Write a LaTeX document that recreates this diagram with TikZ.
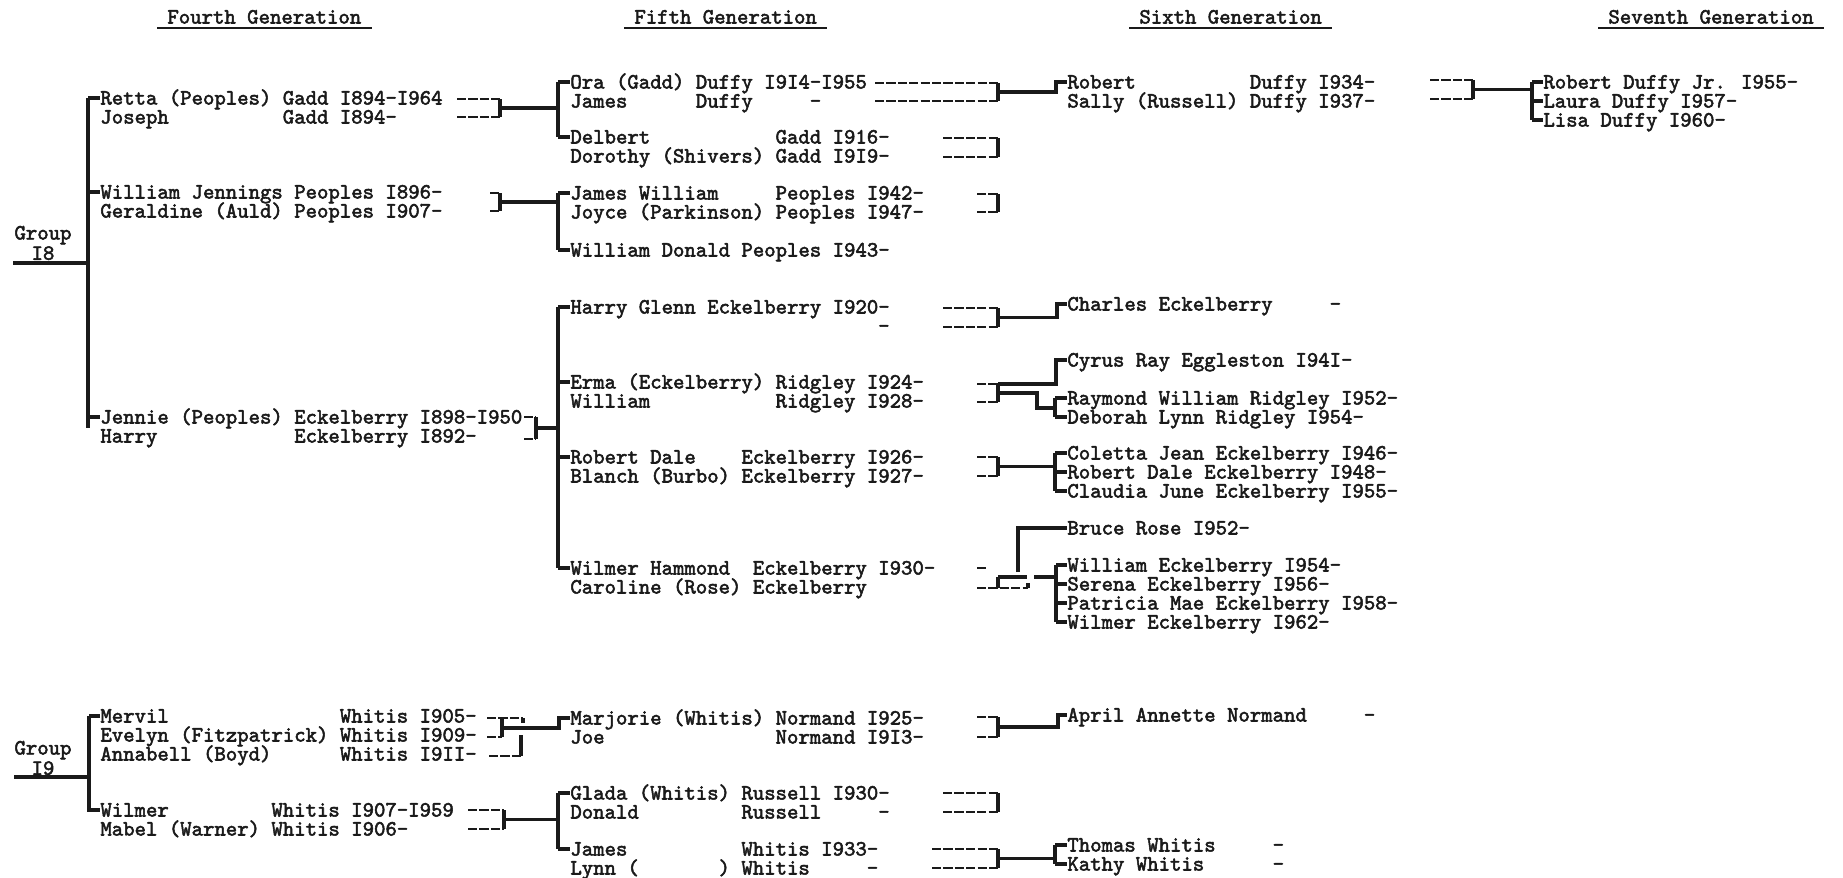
\documentclass[tikz,border=0pt]{standalone}
\usepackage{fontspec}
\newfontfamily\twfont{lmmono10-regular.otf}[FakeBold=2.4]
\newlength\cwd
\setlength\cwd{5.7pt}
\newcommand\SP[1]{\hspace*{#1\cwd}}
\definecolor{ink}{HTML}{1A1A1A}
\tikzset{
  tw/.style={font=\twfont\fontsize{10.86}{11}\selectfont, anchor=west, inner sep=0pt, text height=6.5pt, text depth=0pt, text=ink},
  grp/.style={font=\twfont\fontsize{10.86}{9}\selectfont, align=center, inner sep=0pt, text=ink},
  ln/.style={line width=1.6pt, draw=ink},
  dl/.style={line width=1.2pt, draw=ink, dash pattern=on 4.6pt off 1.1pt},
  ul/.style={line width=1.2pt, draw=ink},
}
\newcommand\brk[5]{%
  \draw[dl] (#1,#3) -- (#2,#3);
  \draw[dl] (#1,#4) -- (#2,#4);
  \draw[ln] (#2,#3) -- (#2,#4);
  \coordinate (#5) at (#2,{(#3+#4)/2});}
\begin{document}
\begin{tikzpicture}[x=0.5pt,y=-0.5pt]
\useasboundingbox (0,0) rectangle (1843,878);
% headers
\node[tw] (h4) at (167,17) {Fourth Generation};
\node[tw] (h5) at (634,17) {Fifth Generation};
\node[tw] (h6) at (1139,17) {Sixth Generation};
\node[tw] (h7) at (1608,17) {Seventh Generation};
\foreach \h in {h4,h5,h6,h7}{
  \draw[ul] ([shift={(-5pt,-2pt)}]\h.south west) -- ([shift={(5pt,-2pt)}]\h.south east);}
% groups
\node[grp] (g8) at (43,243) {Group\\I8};
\node[grp] (g9) at (43,758) {Group\\I9};
% fourth generation
\node[tw] (retta) at (100,98) {Retta (Peoples) Gadd I894-I964};
\node[tw] (joseph) at (100,117) {Joseph\SP{10}Gadd I894-};
\node[tw] (wj) at (100,192) {William Jennings Peoples I896-};
\node[tw] (ger) at (100,211) {Geraldine (Auld) Peoples I907-};
\node[tw] (jennie) at (100,417) {Jennie (Peoples) Eckelberry I898-I950};
\node[tw] (harry) at (100,436) {Harry\SP{12}Eckelberry I892-};
\node[tw] (mervil) at (100,716) {Mervil\SP{15}Whitis I905-};
\node[tw] (evelyn) at (100,735) {Evelyn (Fitzpatrick) Whitis I909-};
\node[tw] (annabell) at (100,754) {Annabell (Boyd)\SP{6}Whitis I9II-};
\node[tw] (wilmer) at (100,810) {Wilmer\SP{9}Whitis I907-I959};
\node[tw] (mabel) at (100,829) {Mabel (Warner) Whitis I906-};
% fifth generation
\node[tw] (ora) at (570,82) {Ora (Gadd) Duffy I9I4-I955};
\node[tw] (jamesd) at (570,101) {James\SP{6}Duffy\SP{5}-};
\node[tw] (delbert) at (570,137) {Delbert\SP{11}Gadd I916-};
\node[tw] (dorothy) at (570,156) {Dorothy (Shivers) Gadd I9I9-};
\node[tw] (jw5) at (570,193) {James William\SP{5}Peoples I942-};
\node[tw] (joyce) at (570,212) {Joyce (Parkinson) Peoples I947-};
\node[tw] (wd) at (570,250) {William Donald Peoples I943-};
\node[tw] (hg) at (570,307) {Harry Glenn Eckelberry I920-};
\node[tw] (hgs) at (570,326) {\SP{27}-};
\node[tw] (erma) at (570,382) {Erma (Eckelberry) Ridgley I924-};
\node[tw] (william) at (570,401) {William\SP{11}Ridgley I928-};
\node[tw] (rd) at (570,457) {Robert Dale\SP{4}Eckelberry I926-};
\node[tw] (blanch) at (570,476) {Blanch (Burbo) Eckelberry I927-};
\node[tw] (wh) at (570,568) {Wilmer Hammond\SP{2}Eckelberry I930-};
\node[tw] (caroline) at (570,587) {Caroline (Rose) Eckelberry};
\node[tw] (marjorie) at (570,718) {Marjorie (Whitis) Normand I925-};
\node[tw] (joe) at (570,737) {Joe\SP{15}Normand I9I3-};
\node[tw] (glada) at (570,793) {Glada (Whitis) Russell I930-};
\node[tw] (donald) at (570,812) {Donald\SP{9}Russell\SP{5}-};
\node[tw] (jamesw) at (570,849) {James\SP{10}Whitis I933-};
\node[tw] (lynn) at (570,868) {Lynn (\SP{7}) Whitis\SP{5}-};
% sixth generation
\node[tw] (robert) at (1067,82) {Robert\SP{10}Duffy I934-};
\node[tw] (sally) at (1067,101) {Sally (Russell) Duffy I937-};
\node[tw] (charles) at (1067,304) {Charles Eckelberry\SP{5}-};
\node[tw] (cyrus) at (1067,360) {Cyrus Ray Eggleston I94I-};
\node[tw] (raymond) at (1067,398) {Raymond William Ridgley I952-};
\node[tw] (deborah) at (1067,417) {Deborah Lynn Ridgley I954-};
\node[tw] (coletta) at (1067,453) {Coletta Jean Eckelberry I946-};
\node[tw] (robertd) at (1067,472) {Robert Dale Eckelberry I948-};
\node[tw] (claudia) at (1067,491) {Claudia June Eckelberry I955-};
\node[tw] (bruce) at (1067,528) {Bruce Rose I952-};
\node[tw] (williame) at (1067,565) {William Eckelberry I954-};
\node[tw] (serena) at (1067,584) {Serena Eckelberry I956-};
\node[tw] (patricia) at (1067,603) {Patricia Mae Eckelberry I958-};
\node[tw] (wilmere) at (1067,622) {Wilmer Eckelberry I962-};
\node[tw] (april) at (1067,715) {April Annette Normand\SP{5}-};
\node[tw] (thomas) at (1067,845) {Thomas Whitis\SP{5}-};
\node[tw] (kathy) at (1067,864) {Kathy Whitis\SP{6}-};
% seventh generation
\node[tw] (robjr) at (1543,82) {Robert Duffy Jr. I955-};
\node[tw] (laura) at (1543,101) {Laura Duffy I957-};
\node[tw] (lisa) at (1543,120) {Lisa Duffy I960-};

% ---- Group I8 bar
\coordinate (g8t) at (88,98);
\coordinate (g8b) at (88,428);
\draw[ln] (g8t) -- (g8b);
\draw[ln] (g8t) -- (retta.west);
\draw[ln] (g8t |- wj.west) -- (wj.west);
\draw[ln] (g8t |- jennie.west) -- (jennie.west);
\coordinate (g8l) at (13,263);
\draw[ln] (g8l) -- (g8l -| g8t);
% ---- Group I9 bar
\coordinate (g9t) at (89,716);
\coordinate (g9b) at (89,812);
\draw[ln] (g9t) -- (g9b);
\draw[ln] (g9t) -- (mervil.west);
\draw[ln] (g9t |- wilmer.west) -- (wilmer.west);
\coordinate (g9l) at (14,777);
\draw[ln] (g9l) -- (g9l -| g9t);

% ---- fifth generation bars
\coordinate (b5g) at (558,82);
\draw[ln] (b5g) -- (b5g |- delbert.west);
\draw[ln] (b5g) -- (ora.west);
\draw[ln] (b5g |- delbert.west) -- (delbert.west);
\coordinate (b5p) at (558,193);
\draw[ln] (b5p) -- (b5p |- wd.west);
\draw[ln] (b5p) -- (jw5.west);
\draw[ln] (b5p |- wd.west) -- (wd.west);
\coordinate (b5e) at (558,307);
\draw[ln] (b5e) -- (b5e |- wh.west);
\draw[ln] (b5e) -- (hg.west);
\draw[ln] (b5e |- erma.west) -- (erma.west);
\draw[ln] (b5e |- rd.west) -- (rd.west);
\draw[ln] (b5e |- wh.west) -- (wh.west);
\coordinate (b5w) at (558,793);
\draw[ln] (b5w) -- (b5w |- jamesw.west);
\draw[ln] (b5w) -- (glada.west);
\draw[ln] (b5w |- jamesw.west) -- (jamesw.west);

% ---- fourth generation brackets
\brk{457}{500}{99}{117}{kRetta}
\draw[ln] (kRetta) -- (kRetta -| b5g);
\brk{490}{500}{193}{211}{kWJ}
\draw[ln] (kWJ) -- (kWJ -| b5p);
\brk{524}{536}{417}{439}{kJen}
\draw[ln] (kJen) -- (kJen -| b5e);
\brk{468}{504}{810}{829}{kWil}
\draw[ln] (kWil) -- (kWil -| b5w);
% Mervil / Evelyn / Annabell
\draw[dl] (487,718) -- (523,718);
\draw[ln] (523,718) -- (523,723);
\draw[dl] (487,737) -- (502,737);
\draw[ln] (502,718) -- (502,737);
\draw[dl] (489,756) -- (521,756);
\draw[ln] (521,756) -- (521,735);
\coordinate (kMer) at (502,728);
\coordinate (cMar) at (559,728);
\draw[ln] (kMer) -- (cMar) -- (cMar |- marjorie.west) -- (marjorie.west);

% ---- fifth generation brackets
\brk{875}{998}{83}{101}{kOra}
\coordinate (cRob) at (1056,92);
\draw[ln] (kOra) -- (cRob) -- (cRob |- robert.west) -- (robert.west);
\brk{943}{998}{138}{157}{kDel}
\brk{977}{998}{194}{212}{kJW5}
\brk{943}{998}{308}{327}{kHG}
\coordinate (cCh) at (1057,317.5);
\draw[ln] (kHG) -- (cCh) -- (cCh |- charles.west) -- (charles.west);
\brk{977}{998}{384}{402}{kErma}
\coordinate (cCy) at (1056,384);
\draw[ln] (998,384) -- (cCy) -- (cCy |- cyrus.west) -- (cyrus.west);
\coordinate (cRa) at (1055,408);
\draw[ln] (998,393) -- (1037,393) -- (1037,408) -- (cRa);
\draw[ln] (cRa |- raymond.west) -- (cRa |- deborah.west);
\draw[ln] (cRa |- raymond.west) -- (raymond.west);
\draw[ln] (cRa |- deborah.west) -- (deborah.west);
\brk{977}{998}{457}{476}{kRD}
\coordinate (cCo) at (1055,466.5);
\draw[ln] (kRD) -- (cCo);
\draw[ln] (cCo |- coletta.west) -- (cCo |- claudia.west);
\draw[ln] (cCo |- coletta.west) -- (coletta.west);
\draw[ln] (cCo |- robertd.west) -- (robertd.west);
\draw[ln] (cCo |- claudia.west) -- (claudia.west);
% Wilmer Hammond
\draw[dl] (977,568) -- (987,568);
\draw[ln] (998,577) -- (1027,577);
\draw[ln] (998,577) -- (998,588);
\draw[dl] (977,588) -- (1028,588);
\draw[ln] (1028,588) -- (1028,583);
\coordinate (kBr) at (1018,572);
\draw[ln] (kBr) -- (kBr |- bruce.west) -- (bruce.west);
\coordinate (kWH) at (1034,577);
\coordinate (cWi) at (1056,577);
\draw[ln] (kWH) -- (cWi);
\draw[ln] (cWi |- williame.west) -- (cWi |- wilmere.west);
\draw[ln] (cWi |- williame.west) -- (williame.west);
\draw[ln] (cWi |- serena.west) -- (serena.west);
\draw[ln] (cWi |- patricia.west) -- (patricia.west);
\draw[ln] (cWi |- wilmere.west) -- (wilmere.west);
% Marjorie
\brk{977}{998}{717}{737}{kMar}
\coordinate (cAp) at (1058,727);
\draw[ln] (kMar) -- (cAp) -- (cAp |- april.west) -- (april.west);
% Glada
\brk{943}{998}{793}{812}{kGl}
% James Whitis
\brk{932}{998}{849}{868}{kJWh}
\coordinate (cTh) at (1055,858.5);
\draw[ln] (kJWh) -- (cTh);
\draw[ln] (cTh |- thomas.west) -- (cTh |- kathy.west);
\draw[ln] (cTh |- thomas.west) -- (thomas.west);
\draw[ln] (cTh |- kathy.west) -- (kathy.west);

% ---- sixth generation bracket
\brk{1430}{1473}{80}{99}{kRob}
\coordinate (cRj) at (1532,89.5);
\draw[ln] (kRob) -- (cRj);
\draw[ln] (cRj |- robjr.west) -- (cRj |- lisa.west);
\draw[ln] (cRj |- robjr.west) -- (robjr.west);
\draw[ln] (cRj |- laura.west) -- (laura.west);
\draw[ln] (cRj |- lisa.west) -- (lisa.west);
\end{tikzpicture}
\end{document}
